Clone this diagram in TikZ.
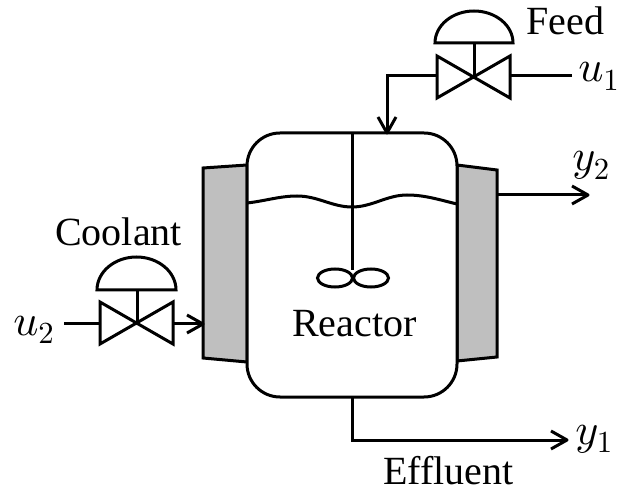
\documentclass[tikz,border=0pt]{standalone}
\usepackage[no-math]{fontspec}
\setmainfont{Liberation Serif}
\DeclareFontShape{OML}{cmm}{m}{it}{<->cmmi10}{}
\DeclareFontShape{OT1}{cmr}{m}{n}{<->cmr10}{}
\DeclareMathSizes{33}{33}{23}{16}
\tikzset{
  pipe/.style={line width=2.25pt},
  barb/.style={line width=2.25pt, line join=round},
  jacket/.style={line width=2.25pt, fill={rgb, 255:red, 191; green, 191; blue, 191 }},
  vessel/.style={line width=2.25pt, fill=white, rounded corners=24.75pt},
  label/.style={anchor=base west, inner sep=0pt, font=\fontsize{30}{36}\selectfont},
  signal/.style={anchor=base west, inner sep=0pt, font=\fontsize{33}{40}\selectfont}
}

\begin{document}
\begin{tikzpicture}[x=0.75pt,y=0.75pt,yscale=-1,xscale=1]
\path [use as bounding box] (0,0) rectangle (617,491);

%Pipe ends
\coordinate (feedin) at (572,76);
\coordinate (feedvalveR) at (510,76);
\coordinate (feedvalveL) at (437,76);
\coordinate (feedbend) at (387,76);
\coordinate (feedout) at (387,133);
\coordinate (coolin) at (64,324);
\coordinate (coolvalveL) at (100,324);
\coordinate (coolvalveR) at (173,324);
\coordinate (coolout) at (203,324);
\coordinate (y2start) at (497,195);
\coordinate (y2end) at (588,195);
\coordinate (effstart) at (352,397);
\coordinate (effbend) at (352,440);
\coordinate (effend) at (567,440);

%Jackets
\draw [jacket] (203,168) -- (247,165) -- (247,362) -- (203,358) -- cycle ;
\draw [jacket] (457,165) -- (497,170) -- (497,357) -- (457,361) -- cycle ;
%Reactor vessel
\draw [vessel] (247,133) -- (457,133) -- (457,397) -- (247,397) -- cycle ;
%Liquid level
\draw [pipe] (247,203) .. controls (265,201) and (280,196) .. (297,196) .. controls (318,196) and (332,207) .. (352,207) .. controls (372,207) and (387,195) .. (407,195) .. controls (425,195) and (440,200) .. (457,204) ;
%Agitator
\draw [pipe] (352,133) -- (352,270) ;
\draw [pipe] (335,278) circle [x radius= 17.5, y radius= 9] ;
\draw [pipe] (371,278) circle [x radius= 17.5, y radius= 9] ;

%Feed valve
\draw [pipe] (437,56) -- (510,98) -- (510,56) -- (437,98) -- cycle ;
\draw [pipe] (474,76) -- (474,43) ;
\draw [pipe] (435,43) arc [start angle=180, end angle=360, x radius=39, y radius=32] -- cycle ;
%Coolant valve
\draw [pipe] (100,302) -- (173,344) -- (173,302) -- (100,344) -- cycle ;
\draw [pipe] (137,324) -- (137,290) ;
\draw [pipe] (97,290) arc [start angle=180, end angle=360, x radius=39.5, y radius=33] -- cycle ;

%Pipes
\draw [pipe] (feedin) -- (feedvalveR) ;
\draw [pipe] (feedvalveL) -- (feedbend) -- (feedout) ;
\draw [barb] [shift={(feedout)}, rotate = 90] (-16,-9) -- (0,0) -- (-16,9) ;
\draw [pipe] (coolin) -- (coolvalveL) ;
\draw [pipe] (coolvalveR) -- (coolout) ;
\draw [barb] [shift={(coolout)}, rotate = 0] (-16,-9) -- (0,0) -- (-16,9) ;
\draw [pipe] (y2start) -- (y2end) ;
\draw [barb] [shift={(y2end)}, rotate = 0] (-16,-9) -- (0,0) -- (-16,9) ;
\draw [pipe] (effstart) -- (effbend) -- (effend) ;
\draw [barb] [shift={(effend)}, rotate = 0] (-16,-9) -- (0,0) -- (-16,9) ;

% Text Node
\node [label] (feed) at (526,35) {Feed};
% Text Node
\node [label] (coolant) at (55,246) {Coolant};
% Text Node
\node [label] (reactor) at (292,337) {Reactor};
% Text Node
\node [label] (effluent) at (383,484) {Effluent};
% Text Node
\node [signal] (u1) at (578,82) {$u_{1}$};
% Text Node
\node [signal] (u2) at (13,335) {$u_{2}$};
% Text Node
\node [signal] (y2) at (572,171) {$y_{2}$};
% Text Node
\node [signal] (y1) at (575,444) {$y_{1}$};

\end{tikzpicture}
\end{document}
